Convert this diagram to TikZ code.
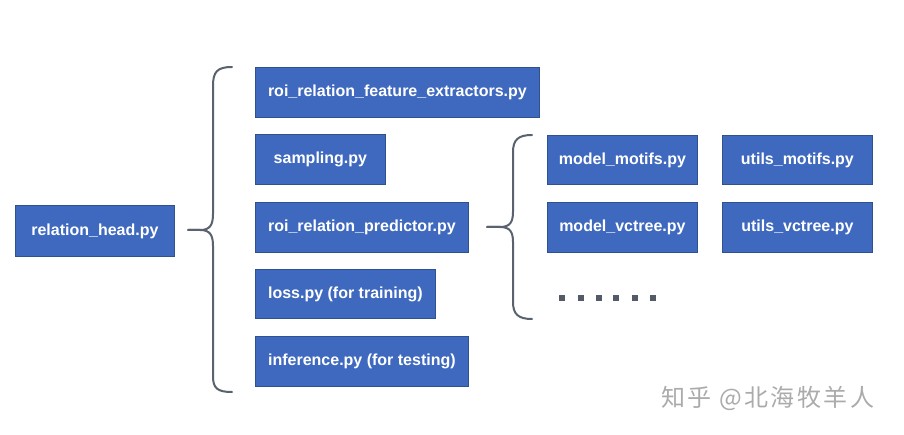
\documentclass[tikz,border=0pt]{standalone}
\usepackage{fontspec}
\setmainfont{Liberation Sans}
\newfontfamily\cjkfont[LetterSpace=10]{Noto Sans CJK SC}
\definecolor{boxfill}{HTML}{3F69BF}
\definecolor{boxline}{HTML}{2F528F}
\definecolor{bracecol}{HTML}{5A6270}
\definecolor{dotcol}{HTML}{555B66}
\definecolor{wmcol}{HTML}{ABABAB}
\begin{document}
\begin{tikzpicture}[x=1pt,y=-1pt,
  filebox/.style={draw=boxline, line width=0.8pt, fill=boxfill, text=white,
    font=\fontsize{16}{18}\selectfont\bfseries, anchor=north west, inner sep=0pt, align=center},
  bracepath/.style={draw=bracecol, line width=2pt, line cap=round, line join=round},
  dotsq/.style={fill=dotcol, minimum size=6pt, inner sep=0pt, anchor=center}]
\useasboundingbox (0,0) rectangle (904,435);
\fill[white] (0,0) rectangle (904,435);
% boxes
\node[filebox, minimum width=159pt, minimum height=51pt] (head) at (15,205) {relation\_head.py};
\node[filebox, minimum width=284pt, minimum height=50pt] (feat) at (255,67) {roi\_relation\_feature\_extractors.py};
\node[filebox, minimum width=130pt, minimum height=50pt] (samp) at (255,134) {sampling.py};
\node[filebox, minimum width=213pt, minimum height=50pt] (pred) at (255,202) {roi\_relation\_predictor.py};
\node[filebox, minimum width=180pt, minimum height=49pt] (loss) at (255,269) {loss.py (for training)};
\node[filebox, minimum width=213pt, minimum height=50pt] (infer) at (255,336) {inference.py (for testing)};
\node[filebox, minimum width=150pt, minimum height=49pt] (mmot) at (547,135) {model\_motifs.py};
\node[filebox, minimum width=150pt, minimum height=49pt] (umot) at (722,135) {utils\_motifs.py};
\node[filebox, minimum width=150pt, minimum height=50pt] (mvct) at (547,202) {model\_vctree.py};
\node[filebox, minimum width=150pt, minimum height=50pt] (uvct) at (722,202) {utils\_vctree.py};
% big brace
\coordinate (b1top) at (232,67);
\coordinate (b1tip) at (188,230);
\coordinate (b1bot) at (232,392);
\draw[bracepath] (b1top) .. controls (217,67) and (213,72) .. (213,86)
  -- (213,214) .. controls (213,225) and (210,230) .. (200,230) -- (b1tip);
\draw[bracepath] (b1tip) -- (200,230) .. controls (210,230) and (213,235) .. (213,246)
  -- (213,376) .. controls (213,388) and (217,392) .. (b1bot);
% small brace
\coordinate (b2top) at (532,135);
\coordinate (b2tip) at (487,227);
\coordinate (b2bot) at (532,319);
\draw[bracepath] (b2top) .. controls (518,135) and (513,140) .. (513,152)
  -- (513,212) .. controls (513,222) and (510,227) .. (500,227) -- (b2tip);
\draw[bracepath] (b2tip) -- (500,227) .. controls (510,227) and (513,232) .. (513,242)
  -- (513,302) .. controls (513,314) and (518,319) .. (b2bot);
% dots
\foreach \i/\xx in {1/562,2/581,3/599,4/616,5/635,6/653}
  \node[dotsq] (dot\i) at (\xx,298) {};
% watermark
\node[text=wmcol, font=\cjkfont\fontsize{24}{26}\selectfont, anchor=west, inner sep=0pt] (wm) at (661,398) {知乎 @北海牧羊人};
\end{tikzpicture}
\end{document}
